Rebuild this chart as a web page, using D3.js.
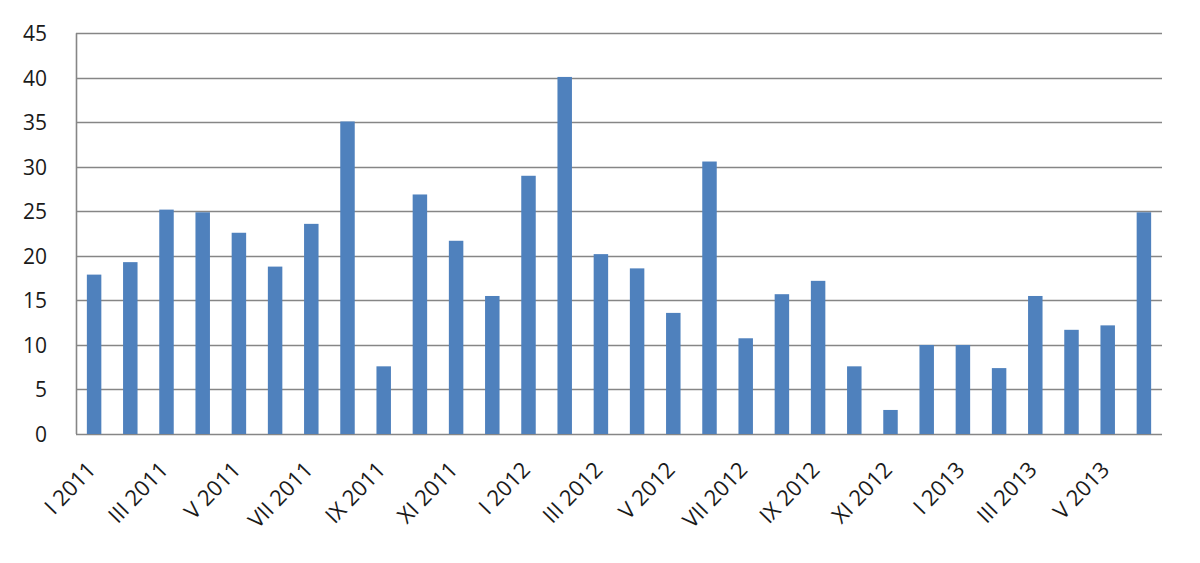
<!DOCTYPE html>
<html><head><meta charset="utf-8">
<script src="https://cdn.jsdelivr.net/npm/d3@7"></script>
<style>html,body{margin:0;padding:0;background:#fff;} svg{display:block;}</style>
</head><body>
<svg id="chart" width="1200" height="563"></svg>
<script>
const categories = ["I 2011","II 2011","III 2011","IV 2011","V 2011","VI 2011","VII 2011","VIII 2011","IX 2011","X 2011","XI 2011","XII 2011",
  "I 2012","II 2012","III 2012","IV 2012","V 2012","VI 2012","VII 2012","VIII 2012","IX 2012","X 2012","XI 2012","XII 2012",
  "I 2013","II 2013","III 2013","IV 2013","V 2013","VI 2013"];
const values = [17.9,19.3,25.2,24.9,22.6,18.8,23.6,35.1,7.6,26.9,21.7,15.5,
  29.0,40.1,20.2,18.6,13.6,30.6,10.75,15.7,17.2,7.6,2.7,10.0,
  10.0,7.4,15.5,11.7,12.2,24.9];
const shownLabels = ["I 2011","III 2011","V 2011","VII 2011","IX 2011","XI 2011","I 2012","III 2012","V 2012","VII 2012","IX 2012","XI 2012","I 2013","III 2013","V 2013"];
const yTicks = [0,5,10,15,20,25,30,35,40,45];

const svg = d3.select("#chart");
const mLeft = 76, mRight = 1162, mTop = 33.3, mBottom = 434;
const x = d3.scaleBand().domain(categories).range([mLeft, mRight]).paddingInner(0.6).paddingOuter(0.3);
const y = d3.scaleLinear().domain([0,45]).range([mBottom, mTop]);
const font = "'Open Sans', 'Liberation Sans', sans-serif";

// gridlines
svg.append("g").selectAll("line").data(yTicks).join("line")
  .attr("x1", mLeft).attr("x2", mRight)
  .attr("y1", d => Math.round(y(d)) + 0.5).attr("y2", d => Math.round(y(d)) + 0.5)
  .attr("stroke", "#868686").attr("stroke-width", 1.6);

// left axis line
svg.append("line").attr("x1", mLeft + 0.5).attr("x2", mLeft + 0.5)
  .attr("y1", y(45)).attr("y2", y(0)).attr("stroke", "#868686").attr("stroke-width", 1.6);

// bars
svg.append("g").selectAll("rect").data(values).join("rect")
  .attr("x", (d,i) => x(categories[i]))
  .attr("width", x.bandwidth())
  .attr("y", d => y(d))
  .attr("height", d => y(0) - y(d))
  .attr("fill", "#4F81BD");

// y tick labels
svg.append("g").selectAll("text").data(yTicks).join("text")
  .attr("x", 47).attr("y", d => y(d) + 8)
  .attr("text-anchor", "end")
  .attr("font-family", font).attr("font-size", 21).attr("fill", "#1a1a1a")
  .text(d => d);

// x labels
svg.append("g").selectAll("text").data(shownLabels).join("text")
  .attr("transform", d => `translate(${x(d) + x.bandwidth()/2 + 3},${471}) rotate(-46)`)
  .attr("text-anchor", "end")
  .attr("font-family", font).attr("font-size", 22).attr("fill", "#1a1a1a")
  .text(d => d);
</script>
</body></html>
